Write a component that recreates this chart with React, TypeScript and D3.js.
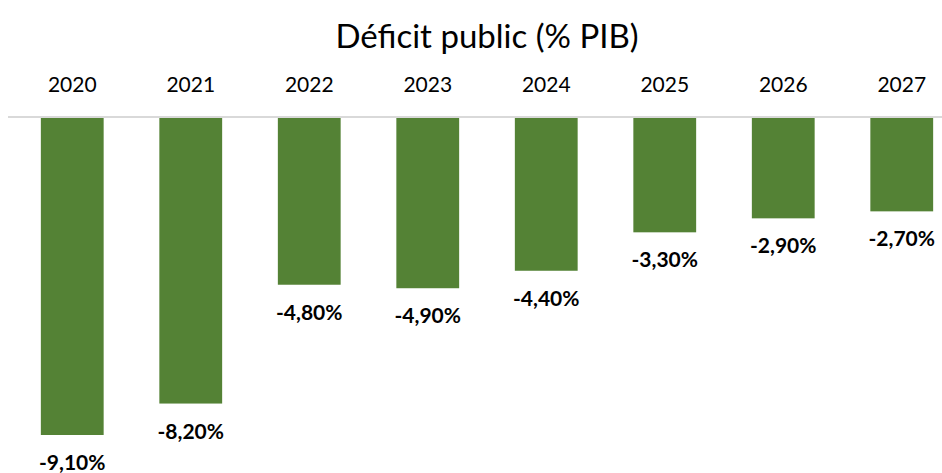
import React from "react";
import * as d3 from "d3";

const years = ["2020", "2021", "2022", "2023", "2024", "2025", "2026", "2027"];
const deficit = [-9.1, -8.2, -4.8, -4.9, -4.4, -3.3, -2.9, -2.7];
const title = "Déficit public (% PIB)";

const W = 942;
const H = 473;

export default function App() {
  const x = d3.scaleBand<string>().domain(years).range([13, 961]).paddingInner(0.47).paddingOuter(0.235);
  const y = d3.scaleLinear().domain([0, -9.1]).range([117, 435]);
  const fmt = (v: number) => v.toFixed(2).replace(".", ",") + "%";
  const font = "Lato, 'Noto Sans', sans-serif";
  return (
    <svg width={W} height={H} style={{ position: "absolute", left: 0, top: 0 }}>
      <rect width={W} height={H} fill="#ffffff" />
      <text x={487} y={48} textAnchor="middle" fontFamily={font} fontSize={33} fill="#000">
        {title}
      </text>
      {years.map((yr) => (
        <text key={yr} x={(x(yr) ?? 0) + x.bandwidth() / 2} y={92} textAnchor="middle" fontFamily={font} fontSize={21} fill="#000">
          {yr}
        </text>
      ))}
      {deficit.map((v, i) => (
        <rect key={i} x={x(years[i])} y={y(0)} width={x.bandwidth()} height={y(v) - y(0)} fill="#548235" />
      ))}
      <line x1={8} x2={W} y1={y(0)} y2={y(0)} stroke="#d9d9d9" strokeWidth={2} />
      {deficit.map((v, i) => (
        <text key={i} x={(x(years[i]) ?? 0) + x.bandwidth() / 2} y={y(v) + 35} textAnchor="middle" fontFamily={font} fontWeight="bold" fontSize={21} fill="#000">
          {fmt(v)}
        </text>
      ))}
    </svg>
  );
}
